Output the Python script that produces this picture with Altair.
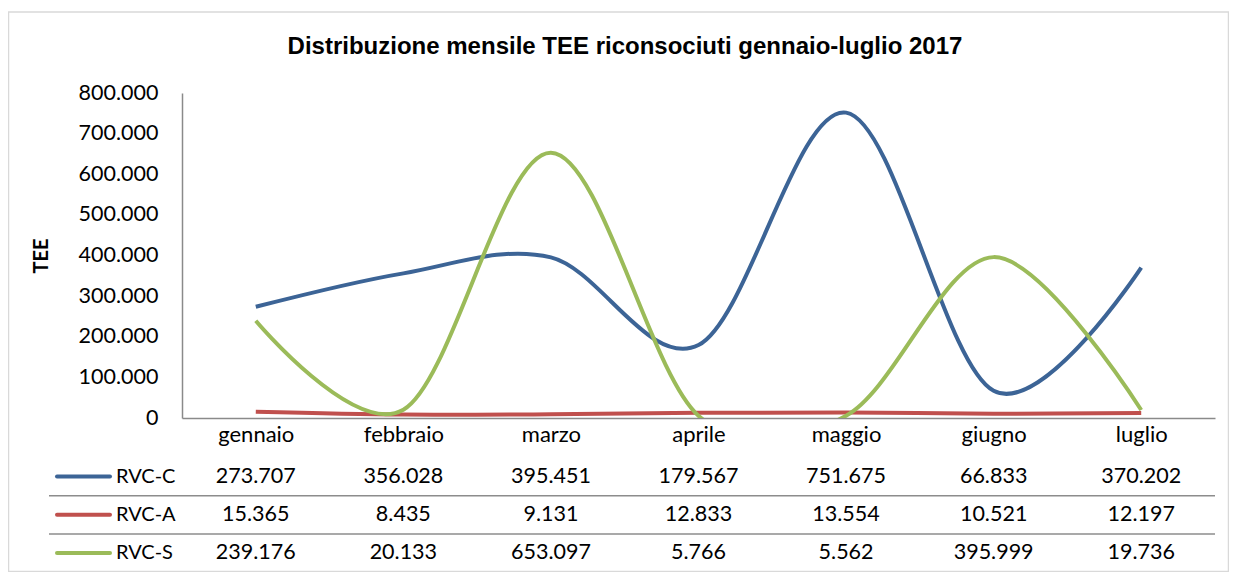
import altair as alt
import pandas as pd

title_text = "Distribuzione mensile TEE riconsociuti gennaio-luglio 2017"
months = ["gennaio", "febbraio", "marzo", "aprile", "maggio", "giugno", "luglio"]
series_names = ["RVC-C", "RVC-A", "RVC-S"]
rvc_c = [273707, 356028, 395451, 179567, 751675, 66833, 370202]
rvc_a = [15365, 8435, 9131, 12833, 13554, 10521, 12197]
rvc_s = [239176, 20133, 653097, 5766, 5562, 395999, 19736]
y_ticks = [0, 100000, 200000, 300000, 400000, 500000, 600000, 700000, 800000]
colors = ["#3C6496", "#C0504D", "#9BBB59"]

rows = []
for s, vals in zip(series_names, [rvc_c, rvc_a, rvc_s]):
    for m, v in zip(months, vals):
        rows.append({"series": s, "month": m, "value": v})
df = pd.DataFrame(rows)
df_rows = pd.DataFrame({"series": series_names})

W, H = 1033, 325
FONT = "Lato"

x_scale = alt.Scale(type="point", domain=months, padding=0.5)
x_axis = alt.Axis(title=None, labelAngle=0, ticks=False, domainColor="#8a8a8a",
                  domainWidth=1.5, labelFont=FONT, labelFontSize=22,
                  labelColor="black", labelPadding=6, grid=False)
x_enc = alt.X("month:N", sort=months, scale=x_scale, axis=x_axis)
color_enc = alt.Color("series:N", scale=alt.Scale(domain=series_names, range=colors), legend=None)
table_scale = alt.Scale(type="point", domain=series_names, range=[383.5, 460], padding=0)
y_table = alt.Y("series:N", scale=table_scale, axis=None)

border = alt.Chart(alt.Data(values=[{}])).mark_rect(
    fill="transparent", stroke="#d9d9d9", strokeWidth=1.5
).encode(x=alt.value(-173.5), x2=alt.value(1046.5), y=alt.value(-81), y2=alt.value(478.5))

title_mark = alt.Chart(alt.Data(values=[{}])).mark_text(
    font="Liberation Sans", fontSize=24, fontWeight="bold", color="black",
    align="center", baseline="middle"
).encode(x=alt.value(443), y=alt.value(-46), text=alt.value(title_text))

lines = alt.Chart(df).mark_line(
    interpolate="cardinal", tension=0, strokeWidth=4, clip=True
).encode(
    x=x_enc,
    y=alt.Y("value:Q", scale=alt.Scale(domain=[0, 800000]),
            axis=alt.Axis(values=y_ticks, format=",d", grid=False, ticks=False,
                          labelPadding=24, domainColor="#8a8a8a", domainWidth=1.5,
                          labelFont=FONT, labelFontSize=21.5, labelColor="black",
                          title="TEE", titleFont=FONT, titleFontSize=20,
                          titleFontWeight="bold", titleColor="black",
                          titleX=-141, titleY=162.5, titleBaseline="middle")),
    color=color_enc,
)

values_text = alt.Chart(df).mark_text(
    font=FONT, fontSize=21.5, color="black", baseline="middle"
).encode(x=x_enc, y=y_table, text=alt.Text("value:Q", format=",d"))

sep_rules = alt.Chart(df_rows).transform_filter(
    alt.datum.series != series_names[0]
).mark_rule(color="#8c8c8c", strokeWidth=1.5, yOffset=-19).encode(
    x=alt.value(-133), x2=alt.value(W), y=y_table
)

swatches = alt.Chart(df_rows).mark_rule(strokeWidth=4, strokeCap="round").encode(
    x=alt.value(-125), x2=alt.value(-72), y=y_table, color=color_enc
)

row_labels = alt.Chart(df_rows).mark_text(
    align="left", baseline="middle", font=FONT, fontSize=20, color="black"
).encode(x=alt.value(-66), y=y_table, text="series:N")

chart = alt.layer(
    border, title_mark, lines, values_text, sep_rules, swatches, row_labels
).resolve_scale(y="independent").properties(
    width=W, height=H,
    autosize=alt.AutoSizeParams(type="none"),
    padding={"left": 174, "top": 85, "right": 14, "bottom": 154},
).configure(
    locale={"number": {"decimal": ",", "thousands": ".", "grouping": [3], "currency": ["€", ""]}}
).configure_view(stroke=None)

chart.save("out.html", embed_options={"renderer": "svg", "actions": False})
